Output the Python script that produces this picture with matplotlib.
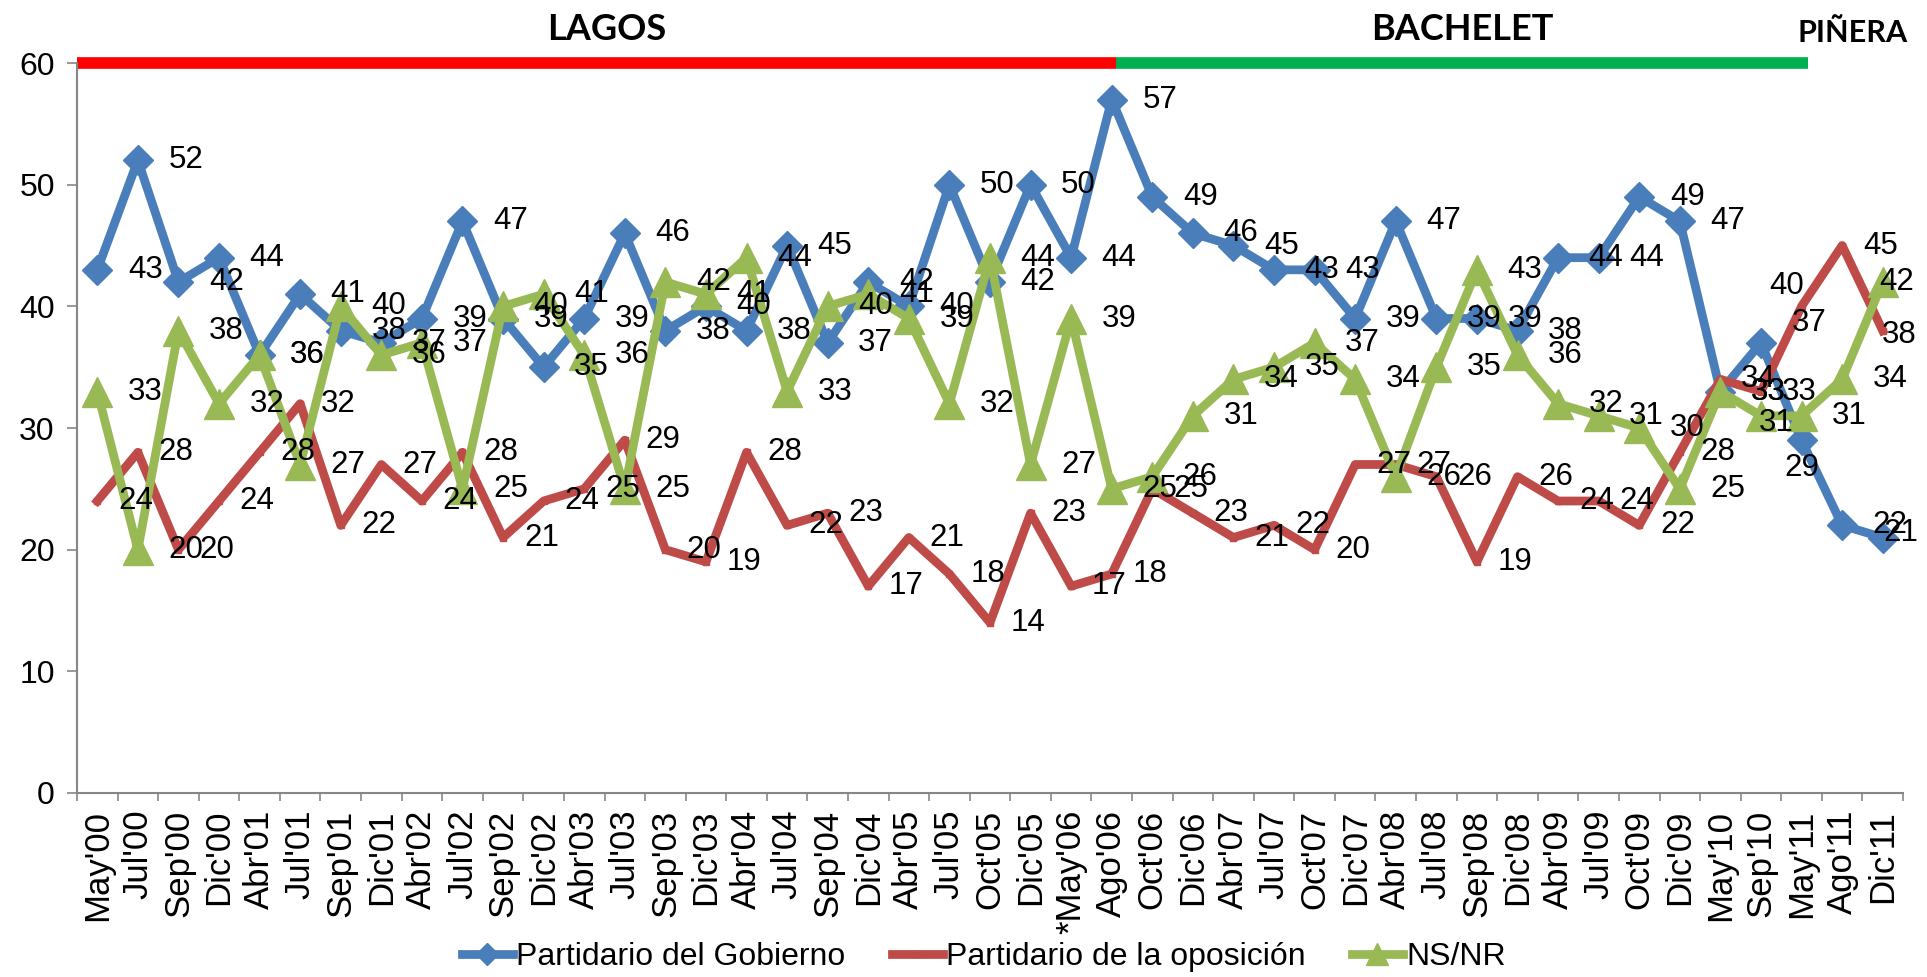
import matplotlib
matplotlib.use('Agg')
import matplotlib.pyplot as plt

cats = ["May'00", "Jul'00", "Sep'00", "Dic'00", "Abr'01", "Jul'01", "Sep'01", "Dic'01",
        "Abr'02", "Jul'02", "Sep'02", "Dic'02", "Abr'03", "Jul'03", "Sep'03", "Dic'03",
        "Abr'04", "Jul'04", "Sep'04", "Dic'04", "Abr'05", "Jul'05", "Oct'05", "Dic'05",
        "*May'06", "Ago'06", "Oct'06", "Dic'06", "Abr'07", "Jul'07", "Oct'07", "Dic'07",
        "Abr'08", "Jul'08", "Sep'08", "Dic'08", "Abr'09", "Jul'09", "Oct'09", "Dic'09",
        "May'10", "Sep'10", "May'11", "Ago'11", "Dic'11"]

gobierno = [43, 52, 42, 44, 36, 41, 38, 37, 39, 47, 39, 35, 39, 46, 38, 40, 38, 45, 37, 42,
            40, 50, 42, 50, 44, 57, 49, 46, 45, 43, 43, 39, 47, 39, 39, 38, 44, 44, 49, 47,
            33, 37, 29, 22, 21]
oposicion = [24, 28, 20, 24, 28, 32, 22, 27, 24, 28, 21, 24, 25, 29, 20, 19, 28, 22, 23, 17,
             21, 18, 14, 23, 17, 18, 25, 23, 21, 22, 20, 27, 27, 26, 19, 26, 24, 24, 22, 28,
             34, 33, 40, 45, 38]
nsnr = [33, 20, 38, 32, 36, 27, 40, 36, 37, 25, 40, 41, 36, 25, 42, 41, 44, 33, 40, 41,
        39, 32, 44, 27, 39, 25, 26, 31, 34, 35, 37, 34, 26, 35, 43, 36, 32, 31, 30, 25,
        33, 31, 31, 34, 42]

series_names = ["Partidario del Gobierno", "Partidario de la oposición", "NS/NR"]
periods = ["LAGOS", "BACHELET", "PIÑERA"]

W, H = 1927, 977
FONT = ['Liberation Sans', 'DejaVu Sans']
plt.rcParams['font.family'] = FONT

fig = plt.figure(figsize=(W / 100, H / 100), dpi=100)
ax = fig.add_axes([77 / W, 1 - 793 / H, (1903 - 77) / W, (793 - 63) / H])

xs = list(range(len(cats)))
c_blue, c_red, c_green = '#4A7EBB', '#BE4B48', '#98B954'

ax.plot(xs, gobierno, color=c_blue, lw=6.3, marker='D', ms=15, label=series_names[0], zorder=3)
ax.plot(xs, oposicion, color=c_red, lw=6.3, marker='s', ms=5, label=series_names[1], zorder=4)
ax.plot(xs, nsnr, color=c_green, lw=6.3, marker='^', ms=22, label=series_names[2], zorder=5)

# data labels
last = len(cats) - 1
special = {
    (0, 41): dict(xytext=(22, 14)),
    (0, 42): dict(xytext=(0, -9), ha='center', va='top'),
    (1, 42): dict(xytext=(-11, 15), ha='center'),
    (2, 41): dict(xytext=(11, -5), ha='center'),
    (0, last): dict(xytext=(13, 3), ha='center'),
    (1, last): dict(xytext=(12, -3), ha='center'),
    (2, last): dict(xytext=(10, 0), ha='center'),
}
for si, (vals, off) in enumerate([(gobierno, 22), (oposicion, 15), (nsnr, 22)]):
    for i, v in enumerate(vals):
        kw = dict(xytext=(off, 0), ha='left', va='center')
        kw.update(special.get((si, i), {}))
        ax.annotate(str(v), (i, v), textcoords='offset points', fontsize=22.5,
                    color='black', zorder=6, annotation_clip=False, **kw)

# period bars
ax.plot([-0.5, 25.1], [60, 60], color='#FF0000', lw=8.4, solid_capstyle='butt',
        clip_on=False, zorder=2)
ax.plot([25.1, 42.15], [60, 60], color='#00B050', lw=8.4, solid_capstyle='butt',
        clip_on=False, zorder=2)

ax.set_xlim(-0.5, len(cats) - 0.5)
ax.set_ylim(0, 60)
ax.set_yticks(range(0, 61, 10))
ax.set_xticks(xs)
ax.set_xticklabels(cats, rotation=90, fontsize=25)
ax.set_xticks([i - 0.5 for i in range(len(cats) + 1)], minor=True)
ax.tick_params(axis='x', which='major', length=0, pad=12)
ax.tick_params(axis='x', which='minor', length=6, width=1.2, color='#868686', direction='out')
ax.tick_params(axis='y', length=7, width=1.2, color='#868686', direction='out',
               labelsize=23, pad=9)
for s in ['top', 'right']:
    ax.spines[s].set_visible(False)
for s in ['left', 'bottom']:
    ax.spines[s].set_color('#868686')
    ax.spines[s].set_linewidth(1.5)

# period titles
tfont = ['Lato', 'DejaVu Sans']
fig.text(606.5 / W, 1 - 40.5 / H, periods[0], family=tfont, fontweight='bold',
         fontsize=26, ha='center', va='baseline')
fig.text(1462.6 / W, 1 - 40.5 / H, periods[1], family=tfont, fontweight='bold',
         fontsize=26, ha='center', va='baseline')
fig.text(1853 / W, 1 - 42 / H, periods[2], family=tfont, fontweight='bold',
         fontsize=22, ha='center', va='baseline')

fig.legend(loc='center', bbox_to_anchor=(0.5105, 1 - 957 / H), ncol=3, frameon=False,
           fontsize=23, handlelength=1.6, handletextpad=0.1, columnspacing=1.45,
           markerscale=0.75)

fig.savefig('out.png', dpi=100, facecolor='white')
